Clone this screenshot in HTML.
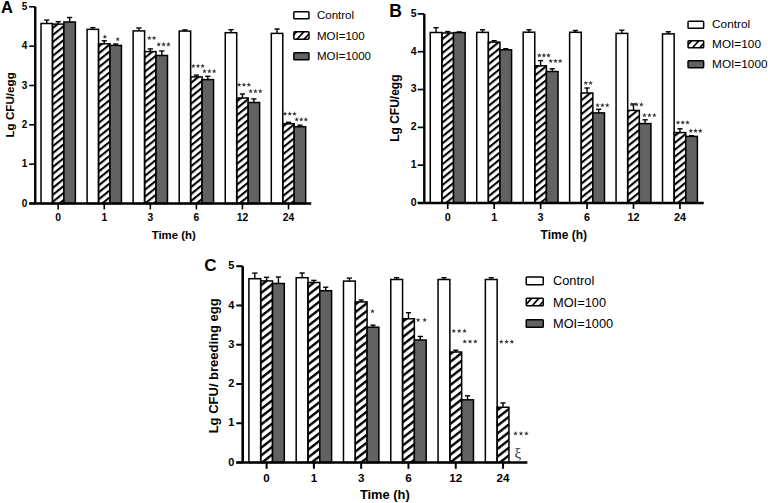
<!DOCTYPE html><html><head><meta charset="utf-8"><style>html,body{margin:0;padding:0;background:#fff;width:768px;height:503px;overflow:hidden}svg{display:block}text{font-family:"Liberation Sans", sans-serif}.tl{font-weight:bold;font-size:9.5px}.xl{font-weight:bold;font-size:10px}.at{font-weight:bold}.pl{font-weight:bold}.lg{font-weight:normal}</style></head><body>
<svg width="768" height="503" viewBox="0 0 768 503">
<defs><pattern id="hatch" patternUnits="userSpaceOnUse" width="5.4" height="5.4" patternTransform="rotate(-39)"><rect x="0" y="0" width="5.4" height="2.1" fill="#000"/></pattern><pattern id="hatchC" patternUnits="userSpaceOnUse" width="6.1" height="6.1" patternTransform="rotate(-38)"><rect x="0" y="0" width="6.1" height="2.4" fill="#000"/></pattern><pattern id="hatchL" patternUnits="userSpaceOnUse" width="5.35" height="5.35" patternTransform="rotate(-48)"><rect x="0" y="0" width="5.35" height="1.7" fill="#000"/></pattern><polygon id="st" points="0,-2.45 0.59,-0.81 2.33,-0.76 0.95,0.31 1.44,1.98 0,1 -1.44,1.98 -0.95,0.31 -2.33,-0.76 -0.59,-0.81" fill="#333"/></defs>
<rect width="768" height="503" fill="#fff"/>
<line x1="46.75" y1="23.5" x2="46.75" y2="20.1" stroke="#000" stroke-width="1.4"/>
<line x1="44.15" y1="20.1" x2="49.35" y2="20.1" stroke="#000" stroke-width="1.4"/>
<rect x="41.03" y="23.5" width="11.45" height="180" fill="#fff" stroke="#000" stroke-width="1.5"/>
<line x1="58.2" y1="24.1" x2="58.2" y2="21.7" stroke="#000" stroke-width="1.4"/>
<line x1="55.6" y1="21.7" x2="60.8" y2="21.7" stroke="#000" stroke-width="1.4"/>
<rect x="52.48" y="24.1" width="11.45" height="179.4" fill="url(#hatch)" stroke="#000" stroke-width="1.5"/>
<line x1="69.65" y1="22" x2="69.65" y2="17.5" stroke="#000" stroke-width="1.4"/>
<line x1="67.05" y1="17.5" x2="72.25" y2="17.5" stroke="#000" stroke-width="1.4"/>
<rect x="63.93" y="22" width="11.45" height="181.5" fill="#626262" stroke="#000" stroke-width="1.5"/>
<line x1="92.81" y1="29.35" x2="92.81" y2="27.6" stroke="#000" stroke-width="1.4"/>
<line x1="90.21" y1="27.6" x2="95.41" y2="27.6" stroke="#000" stroke-width="1.4"/>
<rect x="87.09" y="29.35" width="11.45" height="174.15" fill="#fff" stroke="#000" stroke-width="1.5"/>
<line x1="104.26" y1="43.8" x2="104.26" y2="40.8" stroke="#000" stroke-width="1.4"/>
<line x1="101.66" y1="40.8" x2="106.86" y2="40.8" stroke="#000" stroke-width="1.4"/>
<rect x="98.54" y="43.8" width="11.45" height="159.7" fill="url(#hatch)" stroke="#000" stroke-width="1.5"/>
<line x1="115.71" y1="45.4" x2="115.71" y2="44" stroke="#000" stroke-width="1.4"/>
<line x1="113.11" y1="44" x2="118.31" y2="44" stroke="#000" stroke-width="1.4"/>
<rect x="109.99" y="45.4" width="11.45" height="158.1" fill="#626262" stroke="#000" stroke-width="1.5"/>
<line x1="138.87" y1="30.9" x2="138.87" y2="28" stroke="#000" stroke-width="1.4"/>
<line x1="136.27" y1="28" x2="141.47" y2="28" stroke="#000" stroke-width="1.4"/>
<rect x="133.14" y="30.9" width="11.45" height="172.6" fill="#fff" stroke="#000" stroke-width="1.5"/>
<line x1="150.32" y1="51.6" x2="150.32" y2="48.9" stroke="#000" stroke-width="1.4"/>
<line x1="147.72" y1="48.9" x2="152.92" y2="48.9" stroke="#000" stroke-width="1.4"/>
<rect x="144.59" y="51.6" width="11.45" height="151.9" fill="url(#hatch)" stroke="#000" stroke-width="1.5"/>
<line x1="161.77" y1="55.5" x2="161.77" y2="51" stroke="#000" stroke-width="1.4"/>
<line x1="159.17" y1="51" x2="164.37" y2="51" stroke="#000" stroke-width="1.4"/>
<rect x="156.04" y="55.5" width="11.45" height="148" fill="#626262" stroke="#000" stroke-width="1.5"/>
<line x1="184.93" y1="31.1" x2="184.93" y2="29.9" stroke="#000" stroke-width="1.4"/>
<line x1="182.33" y1="29.9" x2="187.53" y2="29.9" stroke="#000" stroke-width="1.4"/>
<rect x="179.2" y="31.1" width="11.45" height="172.4" fill="#fff" stroke="#000" stroke-width="1.5"/>
<line x1="196.38" y1="76.9" x2="196.38" y2="75.1" stroke="#000" stroke-width="1.4"/>
<line x1="193.78" y1="75.1" x2="198.98" y2="75.1" stroke="#000" stroke-width="1.4"/>
<rect x="190.65" y="76.9" width="11.45" height="126.6" fill="url(#hatch)" stroke="#000" stroke-width="1.5"/>
<line x1="207.83" y1="79.6" x2="207.83" y2="76.3" stroke="#000" stroke-width="1.4"/>
<line x1="205.23" y1="76.3" x2="210.43" y2="76.3" stroke="#000" stroke-width="1.4"/>
<rect x="202.1" y="79.6" width="11.45" height="123.9" fill="#626262" stroke="#000" stroke-width="1.5"/>
<line x1="230.99" y1="32.7" x2="230.99" y2="29.7" stroke="#000" stroke-width="1.4"/>
<line x1="228.39" y1="29.7" x2="233.59" y2="29.7" stroke="#000" stroke-width="1.4"/>
<rect x="225.26" y="32.7" width="11.45" height="170.8" fill="#fff" stroke="#000" stroke-width="1.5"/>
<line x1="242.44" y1="98" x2="242.44" y2="94" stroke="#000" stroke-width="1.4"/>
<line x1="239.84" y1="94" x2="245.04" y2="94" stroke="#000" stroke-width="1.4"/>
<rect x="236.71" y="98" width="11.45" height="105.5" fill="url(#hatch)" stroke="#000" stroke-width="1.5"/>
<line x1="253.89" y1="102.5" x2="253.89" y2="98.95" stroke="#000" stroke-width="1.4"/>
<line x1="251.29" y1="98.95" x2="256.49" y2="98.95" stroke="#000" stroke-width="1.4"/>
<rect x="248.16" y="102.5" width="11.45" height="101" fill="#626262" stroke="#000" stroke-width="1.5"/>
<line x1="277.05" y1="33.4" x2="277.05" y2="29" stroke="#000" stroke-width="1.4"/>
<line x1="274.45" y1="29" x2="279.65" y2="29" stroke="#000" stroke-width="1.4"/>
<rect x="271.32" y="33.4" width="11.45" height="170.1" fill="#fff" stroke="#000" stroke-width="1.5"/>
<line x1="288.5" y1="123.8" x2="288.5" y2="122.3" stroke="#000" stroke-width="1.4"/>
<line x1="285.9" y1="122.3" x2="291.1" y2="122.3" stroke="#000" stroke-width="1.4"/>
<rect x="282.77" y="123.8" width="11.45" height="79.7" fill="url(#hatch)" stroke="#000" stroke-width="1.5"/>
<line x1="299.95" y1="126.75" x2="299.95" y2="125.2" stroke="#000" stroke-width="1.4"/>
<line x1="297.35" y1="125.2" x2="302.55" y2="125.2" stroke="#000" stroke-width="1.4"/>
<rect x="294.22" y="126.75" width="11.45" height="76.75" fill="#626262" stroke="#000" stroke-width="1.5"/>
<path d="M35.25 6.8 V203.5 M29.2 203.5 H311.25" stroke="#000" stroke-width="2.4" fill="none"/>
<line x1="29.2" y1="203.5" x2="35.25" y2="203.5" stroke="#000" stroke-width="1.6"/>
<text x="27.4" y="206.6" class="tl" text-anchor="end" style="font-size:10px">0</text>
<line x1="29.2" y1="164.16" x2="35.25" y2="164.16" stroke="#000" stroke-width="1.6"/>
<text x="27.4" y="167.26" class="tl" text-anchor="end" style="font-size:10px">1</text>
<line x1="29.2" y1="124.82" x2="35.25" y2="124.82" stroke="#000" stroke-width="1.6"/>
<text x="27.4" y="127.92" class="tl" text-anchor="end" style="font-size:10px">2</text>
<line x1="29.2" y1="85.48" x2="35.25" y2="85.48" stroke="#000" stroke-width="1.6"/>
<text x="27.4" y="88.58" class="tl" text-anchor="end" style="font-size:10px">3</text>
<line x1="29.2" y1="46.14" x2="35.25" y2="46.14" stroke="#000" stroke-width="1.6"/>
<text x="27.4" y="49.24" class="tl" text-anchor="end" style="font-size:10px">4</text>
<line x1="29.2" y1="6.8" x2="35.25" y2="6.8" stroke="#000" stroke-width="1.6"/>
<text x="27.4" y="9.9" class="tl" text-anchor="end" style="font-size:10px">5</text>
<line x1="58.2" y1="203.5" x2="58.2" y2="209.4" stroke="#000" stroke-width="1.6"/>
<text x="58.2" y="220.5" class="xl" text-anchor="middle" style="font-size:10.3px">0</text>
<line x1="104.26" y1="203.5" x2="104.26" y2="209.4" stroke="#000" stroke-width="1.6"/>
<text x="104.26" y="220.5" class="xl" text-anchor="middle" style="font-size:10.3px">1</text>
<line x1="150.32" y1="203.5" x2="150.32" y2="209.4" stroke="#000" stroke-width="1.6"/>
<text x="150.32" y="220.5" class="xl" text-anchor="middle" style="font-size:10.3px">3</text>
<line x1="196.38" y1="203.5" x2="196.38" y2="209.4" stroke="#000" stroke-width="1.6"/>
<text x="196.38" y="220.5" class="xl" text-anchor="middle" style="font-size:10.3px">6</text>
<line x1="242.44" y1="203.5" x2="242.44" y2="209.4" stroke="#000" stroke-width="1.6"/>
<text x="242.44" y="220.5" class="xl" text-anchor="middle" style="font-size:10.3px">12</text>
<line x1="288.5" y1="203.5" x2="288.5" y2="209.4" stroke="#000" stroke-width="1.6"/>
<text x="288.5" y="220.5" class="xl" text-anchor="middle" style="font-size:10.3px">24</text>
<text x="173.75" y="238.75" class="at" text-anchor="middle" style="font-size:11.4px">Time (h)</text>
<text transform="translate(14.2 104.9) rotate(-90)" class="at" text-anchor="middle" style="font-size:11.65px">Lg CFU/egg</text>
<text x="0.9" y="13" class="pl" style="font-size:16.5px">A</text>
<use href="#st" x="104.9" y="36.8"/>
<use href="#st" x="117.7" y="39.2"/>
<use href="#st" x="149.33" y="38.1"/>
<use href="#st" x="154.07" y="38.1"/>
<use href="#st" x="158.73" y="44.4"/>
<use href="#st" x="163.6" y="44.4"/>
<use href="#st" x="168.47" y="44.4"/>
<use href="#st" x="193.33" y="66"/>
<use href="#st" x="198" y="66"/>
<use href="#st" x="202.67" y="66"/>
<use href="#st" x="204.53" y="71.25"/>
<use href="#st" x="209.35" y="71.25"/>
<use href="#st" x="214.17" y="71.25"/>
<use href="#st" x="239.13" y="84.7"/>
<use href="#st" x="243.95" y="84.7"/>
<use href="#st" x="248.77" y="84.7"/>
<use href="#st" x="250.63" y="91.25"/>
<use href="#st" x="255.45" y="91.25"/>
<use href="#st" x="260.27" y="91.25"/>
<use href="#st" x="285.03" y="113.75"/>
<use href="#st" x="289.75" y="113.75"/>
<use href="#st" x="294.47" y="113.75"/>
<use href="#st" x="296.73" y="119.5"/>
<use href="#st" x="301.3" y="119.5"/>
<use href="#st" x="305.87" y="119.5"/>
<rect x="293.85" y="11.75" width="15.1" height="7.1" fill="#fff" stroke="#000" stroke-width="1.5" rx="0.8"/>
<text x="317" y="19.25" class="lg" style="font-size:11.5px">Control</text>
<rect x="293.85" y="31.75" width="15.1" height="7.4" fill="url(#hatchL)" stroke="#000" stroke-width="1.5" rx="0.8"/>
<text x="317" y="39.9" class="lg" style="font-size:11.5px">MOI=100</text>
<rect x="293.85" y="52.75" width="15.1" height="7" fill="#626262" stroke="#000" stroke-width="1.5" rx="0.8"/>
<text x="317" y="60.3" class="lg" style="font-size:11.5px">MOI=1000</text>
<line x1="436.08" y1="32.5" x2="436.08" y2="27.7" stroke="#000" stroke-width="1.4"/>
<line x1="433.48" y1="27.7" x2="438.68" y2="27.7" stroke="#000" stroke-width="1.4"/>
<rect x="430.27" y="32.5" width="11.62" height="170.5" fill="#fff" stroke="#000" stroke-width="1.5"/>
<line x1="447.7" y1="33" x2="447.7" y2="31.6" stroke="#000" stroke-width="1.4"/>
<line x1="445.1" y1="31.6" x2="450.3" y2="31.6" stroke="#000" stroke-width="1.4"/>
<rect x="441.89" y="33" width="11.62" height="170" fill="url(#hatch)" stroke="#000" stroke-width="1.5"/>
<line x1="459.32" y1="32.6" x2="459.32" y2="31.9" stroke="#000" stroke-width="1.4"/>
<line x1="456.72" y1="31.9" x2="461.92" y2="31.9" stroke="#000" stroke-width="1.4"/>
<rect x="453.51" y="32.6" width="11.62" height="170.4" fill="#626262" stroke="#000" stroke-width="1.5"/>
<line x1="482.53" y1="32.4" x2="482.53" y2="29.8" stroke="#000" stroke-width="1.4"/>
<line x1="479.93" y1="29.8" x2="485.13" y2="29.8" stroke="#000" stroke-width="1.4"/>
<rect x="476.72" y="32.4" width="11.62" height="170.6" fill="#fff" stroke="#000" stroke-width="1.5"/>
<line x1="494.15" y1="42.1" x2="494.15" y2="40.7" stroke="#000" stroke-width="1.4"/>
<line x1="491.55" y1="40.7" x2="496.75" y2="40.7" stroke="#000" stroke-width="1.4"/>
<rect x="488.34" y="42.1" width="11.62" height="160.9" fill="url(#hatch)" stroke="#000" stroke-width="1.5"/>
<line x1="505.77" y1="49.8" x2="505.77" y2="48.7" stroke="#000" stroke-width="1.4"/>
<line x1="503.17" y1="48.7" x2="508.37" y2="48.7" stroke="#000" stroke-width="1.4"/>
<rect x="499.96" y="49.8" width="11.62" height="153.2" fill="#626262" stroke="#000" stroke-width="1.5"/>
<line x1="528.98" y1="32.2" x2="528.98" y2="29.8" stroke="#000" stroke-width="1.4"/>
<line x1="526.38" y1="29.8" x2="531.58" y2="29.8" stroke="#000" stroke-width="1.4"/>
<rect x="523.17" y="32.2" width="11.62" height="170.8" fill="#fff" stroke="#000" stroke-width="1.5"/>
<line x1="540.6" y1="65.8" x2="540.6" y2="60.6" stroke="#000" stroke-width="1.4"/>
<line x1="538" y1="60.6" x2="543.2" y2="60.6" stroke="#000" stroke-width="1.4"/>
<rect x="534.79" y="65.8" width="11.62" height="137.2" fill="url(#hatch)" stroke="#000" stroke-width="1.5"/>
<line x1="552.22" y1="71.5" x2="552.22" y2="68.8" stroke="#000" stroke-width="1.4"/>
<line x1="549.62" y1="68.8" x2="554.82" y2="68.8" stroke="#000" stroke-width="1.4"/>
<rect x="546.41" y="71.5" width="11.62" height="131.5" fill="#626262" stroke="#000" stroke-width="1.5"/>
<line x1="575.43" y1="32.3" x2="575.43" y2="30.5" stroke="#000" stroke-width="1.4"/>
<line x1="572.83" y1="30.5" x2="578.03" y2="30.5" stroke="#000" stroke-width="1.4"/>
<rect x="569.62" y="32.3" width="11.62" height="170.7" fill="#fff" stroke="#000" stroke-width="1.5"/>
<line x1="587.05" y1="93" x2="587.05" y2="88" stroke="#000" stroke-width="1.4"/>
<line x1="584.45" y1="88" x2="589.65" y2="88" stroke="#000" stroke-width="1.4"/>
<rect x="581.24" y="93" width="11.62" height="110" fill="url(#hatch)" stroke="#000" stroke-width="1.5"/>
<line x1="598.67" y1="112.9" x2="598.67" y2="109.3" stroke="#000" stroke-width="1.4"/>
<line x1="596.07" y1="109.3" x2="601.27" y2="109.3" stroke="#000" stroke-width="1.4"/>
<rect x="592.86" y="112.9" width="11.62" height="90.1" fill="#626262" stroke="#000" stroke-width="1.5"/>
<line x1="621.88" y1="33.4" x2="621.88" y2="30.2" stroke="#000" stroke-width="1.4"/>
<line x1="619.28" y1="30.2" x2="624.48" y2="30.2" stroke="#000" stroke-width="1.4"/>
<rect x="616.07" y="33.4" width="11.62" height="169.6" fill="#fff" stroke="#000" stroke-width="1.5"/>
<line x1="633.5" y1="110.4" x2="633.5" y2="104" stroke="#000" stroke-width="1.4"/>
<line x1="630.9" y1="104" x2="636.1" y2="104" stroke="#000" stroke-width="1.4"/>
<rect x="627.69" y="110.4" width="11.62" height="92.6" fill="url(#hatch)" stroke="#000" stroke-width="1.5"/>
<line x1="645.12" y1="123.6" x2="645.12" y2="119.8" stroke="#000" stroke-width="1.4"/>
<line x1="642.52" y1="119.8" x2="647.72" y2="119.8" stroke="#000" stroke-width="1.4"/>
<rect x="639.31" y="123.6" width="11.62" height="79.4" fill="#626262" stroke="#000" stroke-width="1.5"/>
<line x1="668.33" y1="33.9" x2="668.33" y2="31.8" stroke="#000" stroke-width="1.4"/>
<line x1="665.73" y1="31.8" x2="670.93" y2="31.8" stroke="#000" stroke-width="1.4"/>
<rect x="662.52" y="33.9" width="11.62" height="169.1" fill="#fff" stroke="#000" stroke-width="1.5"/>
<line x1="679.95" y1="132.6" x2="679.95" y2="128.8" stroke="#000" stroke-width="1.4"/>
<line x1="677.35" y1="128.8" x2="682.55" y2="128.8" stroke="#000" stroke-width="1.4"/>
<rect x="674.14" y="132.6" width="11.62" height="70.4" fill="url(#hatch)" stroke="#000" stroke-width="1.5"/>
<line x1="691.57" y1="136.4" x2="691.57" y2="135.7" stroke="#000" stroke-width="1.4"/>
<line x1="688.97" y1="135.7" x2="694.17" y2="135.7" stroke="#000" stroke-width="1.4"/>
<rect x="685.76" y="136.4" width="11.62" height="66.6" fill="#626262" stroke="#000" stroke-width="1.5"/>
<path d="M424.3 13.9 V203 M417.75 203 H703.75" stroke="#000" stroke-width="2.4" fill="none"/>
<line x1="417.75" y1="203" x2="424.3" y2="203" stroke="#000" stroke-width="1.7"/>
<text x="416.5" y="205.9" class="tl" text-anchor="end" style="font-size:10.5px">0</text>
<line x1="417.75" y1="165.18" x2="424.3" y2="165.18" stroke="#000" stroke-width="1.7"/>
<text x="416.5" y="168.08" class="tl" text-anchor="end" style="font-size:10.5px">1</text>
<line x1="417.75" y1="127.36" x2="424.3" y2="127.36" stroke="#000" stroke-width="1.7"/>
<text x="416.5" y="130.26" class="tl" text-anchor="end" style="font-size:10.5px">2</text>
<line x1="417.75" y1="89.54" x2="424.3" y2="89.54" stroke="#000" stroke-width="1.7"/>
<text x="416.5" y="92.44" class="tl" text-anchor="end" style="font-size:10.5px">3</text>
<line x1="417.75" y1="51.72" x2="424.3" y2="51.72" stroke="#000" stroke-width="1.7"/>
<text x="416.5" y="54.62" class="tl" text-anchor="end" style="font-size:10.5px">4</text>
<line x1="417.75" y1="13.9" x2="424.3" y2="13.9" stroke="#000" stroke-width="1.7"/>
<text x="416.5" y="16.8" class="tl" text-anchor="end" style="font-size:10.5px">5</text>
<line x1="447.7" y1="203" x2="447.7" y2="208.9" stroke="#000" stroke-width="1.7"/>
<text x="447.7" y="220.8" class="xl" text-anchor="middle" style="font-size:10.8px">0</text>
<line x1="494.15" y1="203" x2="494.15" y2="208.9" stroke="#000" stroke-width="1.7"/>
<text x="494.15" y="220.8" class="xl" text-anchor="middle" style="font-size:10.8px">1</text>
<line x1="540.6" y1="203" x2="540.6" y2="208.9" stroke="#000" stroke-width="1.7"/>
<text x="540.6" y="220.8" class="xl" text-anchor="middle" style="font-size:10.8px">3</text>
<line x1="587.05" y1="203" x2="587.05" y2="208.9" stroke="#000" stroke-width="1.7"/>
<text x="587.05" y="220.8" class="xl" text-anchor="middle" style="font-size:10.8px">6</text>
<line x1="633.5" y1="203" x2="633.5" y2="208.9" stroke="#000" stroke-width="1.7"/>
<text x="633.5" y="220.8" class="xl" text-anchor="middle" style="font-size:10.8px">12</text>
<line x1="679.95" y1="203" x2="679.95" y2="208.9" stroke="#000" stroke-width="1.7"/>
<text x="679.95" y="220.8" class="xl" text-anchor="middle" style="font-size:10.8px">24</text>
<text x="563.85" y="238.8" class="at" text-anchor="middle" style="font-size:12px">Time (h)</text>
<text transform="translate(398.9 108.2) rotate(-90)" class="at" text-anchor="middle" style="font-size:12px">Lg CFU/egg</text>
<text x="389.2" y="16.7" class="pl" style="font-size:17.5px">B</text>
<use href="#st" x="539.33" y="55.4"/>
<use href="#st" x="543.9" y="55.4"/>
<use href="#st" x="548.47" y="55.4"/>
<use href="#st" x="550.73" y="61.1"/>
<use href="#st" x="555.45" y="61.1"/>
<use href="#st" x="560.17" y="61.1"/>
<use href="#st" x="585.83" y="83.1"/>
<use href="#st" x="590.57" y="83.1"/>
<use href="#st" x="597.63" y="105.2"/>
<use href="#st" x="602.45" y="105.2"/>
<use href="#st" x="607.27" y="105.2"/>
<use href="#st" x="631.73" y="104.5"/>
<use href="#st" x="636.58" y="104.5"/>
<use href="#st" x="641.42" y="104.5"/>
<use href="#st" x="644.43" y="115.2"/>
<use href="#st" x="649.4" y="115.2"/>
<use href="#st" x="654.37" y="115.2"/>
<use href="#st" x="678.03" y="122.6"/>
<use href="#st" x="682.75" y="122.6"/>
<use href="#st" x="687.47" y="122.6"/>
<use href="#st" x="690.83" y="130.9"/>
<use href="#st" x="695.55" y="130.9"/>
<use href="#st" x="700.27" y="130.9"/>
<rect x="688.05" y="21.25" width="15.6" height="7.1" fill="#fff" stroke="#000" stroke-width="1.5" rx="0.8"/>
<text x="712.1" y="28.3" class="lg" style="font-size:11.8px">Control</text>
<rect x="688.05" y="40.75" width="15.6" height="7.1" fill="url(#hatchL)" stroke="#000" stroke-width="1.5" rx="0.8"/>
<text x="712.1" y="48.2" class="lg" style="font-size:11.8px">MOI=100</text>
<rect x="688.05" y="60.75" width="15.6" height="6.9" fill="#626262" stroke="#000" stroke-width="1.5" rx="0.8"/>
<text x="712.1" y="67.9" class="lg" style="font-size:11.8px">MOI=1000</text>
<line x1="254.8" y1="278.7" x2="254.8" y2="273.1" stroke="#000" stroke-width="1.4"/>
<line x1="252.2" y1="273.1" x2="257.4" y2="273.1" stroke="#000" stroke-width="1.4"/>
<rect x="248.9" y="278.7" width="11.8" height="183.8" fill="#fff" stroke="#000" stroke-width="1.5"/>
<line x1="266.6" y1="280.9" x2="266.6" y2="277.3" stroke="#000" stroke-width="1.4"/>
<line x1="264" y1="277.3" x2="269.2" y2="277.3" stroke="#000" stroke-width="1.4"/>
<rect x="260.7" y="280.9" width="11.8" height="181.6" fill="url(#hatchC)" stroke="#000" stroke-width="1.5"/>
<line x1="278.4" y1="283.5" x2="278.4" y2="277" stroke="#000" stroke-width="1.4"/>
<line x1="275.8" y1="277" x2="281" y2="277" stroke="#000" stroke-width="1.4"/>
<rect x="272.5" y="283.5" width="11.8" height="179" fill="#626262" stroke="#000" stroke-width="1.5"/>
<line x1="302.09" y1="277.7" x2="302.09" y2="273" stroke="#000" stroke-width="1.4"/>
<line x1="299.49" y1="273" x2="304.69" y2="273" stroke="#000" stroke-width="1.4"/>
<rect x="296.19" y="277.7" width="11.8" height="184.8" fill="#fff" stroke="#000" stroke-width="1.5"/>
<line x1="313.89" y1="282.5" x2="313.89" y2="280.4" stroke="#000" stroke-width="1.4"/>
<line x1="311.29" y1="280.4" x2="316.49" y2="280.4" stroke="#000" stroke-width="1.4"/>
<rect x="307.99" y="282.5" width="11.8" height="180" fill="url(#hatchC)" stroke="#000" stroke-width="1.5"/>
<line x1="325.69" y1="290.7" x2="325.69" y2="287.2" stroke="#000" stroke-width="1.4"/>
<line x1="323.09" y1="287.2" x2="328.29" y2="287.2" stroke="#000" stroke-width="1.4"/>
<rect x="319.79" y="290.7" width="11.8" height="171.8" fill="#626262" stroke="#000" stroke-width="1.5"/>
<line x1="349.38" y1="281.1" x2="349.38" y2="278.1" stroke="#000" stroke-width="1.4"/>
<line x1="346.78" y1="278.1" x2="351.98" y2="278.1" stroke="#000" stroke-width="1.4"/>
<rect x="343.48" y="281.1" width="11.8" height="181.4" fill="#fff" stroke="#000" stroke-width="1.5"/>
<line x1="361.18" y1="301.9" x2="361.18" y2="300" stroke="#000" stroke-width="1.4"/>
<line x1="358.58" y1="300" x2="363.78" y2="300" stroke="#000" stroke-width="1.4"/>
<rect x="355.28" y="301.9" width="11.8" height="160.6" fill="url(#hatchC)" stroke="#000" stroke-width="1.5"/>
<line x1="372.98" y1="327.2" x2="372.98" y2="325.2" stroke="#000" stroke-width="1.4"/>
<line x1="370.38" y1="325.2" x2="375.58" y2="325.2" stroke="#000" stroke-width="1.4"/>
<rect x="367.08" y="327.2" width="11.8" height="135.3" fill="#626262" stroke="#000" stroke-width="1.5"/>
<line x1="396.67" y1="279.5" x2="396.67" y2="277.7" stroke="#000" stroke-width="1.4"/>
<line x1="394.07" y1="277.7" x2="399.27" y2="277.7" stroke="#000" stroke-width="1.4"/>
<rect x="390.77" y="279.5" width="11.8" height="183" fill="#fff" stroke="#000" stroke-width="1.5"/>
<line x1="408.47" y1="318.75" x2="408.47" y2="312.7" stroke="#000" stroke-width="1.4"/>
<line x1="405.87" y1="312.7" x2="411.07" y2="312.7" stroke="#000" stroke-width="1.4"/>
<rect x="402.57" y="318.75" width="11.8" height="143.75" fill="url(#hatchC)" stroke="#000" stroke-width="1.5"/>
<line x1="420.27" y1="340" x2="420.27" y2="336.45" stroke="#000" stroke-width="1.4"/>
<line x1="417.67" y1="336.45" x2="422.87" y2="336.45" stroke="#000" stroke-width="1.4"/>
<rect x="414.37" y="340" width="11.8" height="122.5" fill="#626262" stroke="#000" stroke-width="1.5"/>
<line x1="443.96" y1="279.5" x2="443.96" y2="277.7" stroke="#000" stroke-width="1.4"/>
<line x1="441.36" y1="277.7" x2="446.56" y2="277.7" stroke="#000" stroke-width="1.4"/>
<rect x="438.06" y="279.5" width="11.8" height="183" fill="#fff" stroke="#000" stroke-width="1.5"/>
<line x1="455.76" y1="352" x2="455.76" y2="350.2" stroke="#000" stroke-width="1.4"/>
<line x1="453.16" y1="350.2" x2="458.36" y2="350.2" stroke="#000" stroke-width="1.4"/>
<rect x="449.86" y="352" width="11.8" height="110.5" fill="url(#hatchC)" stroke="#000" stroke-width="1.5"/>
<line x1="467.56" y1="399.8" x2="467.56" y2="395.8" stroke="#000" stroke-width="1.4"/>
<line x1="464.96" y1="395.8" x2="470.16" y2="395.8" stroke="#000" stroke-width="1.4"/>
<rect x="461.66" y="399.8" width="11.8" height="62.7" fill="#626262" stroke="#000" stroke-width="1.5"/>
<line x1="491.25" y1="279.5" x2="491.25" y2="277.7" stroke="#000" stroke-width="1.4"/>
<line x1="488.65" y1="277.7" x2="493.85" y2="277.7" stroke="#000" stroke-width="1.4"/>
<rect x="485.35" y="279.5" width="11.8" height="183" fill="#fff" stroke="#000" stroke-width="1.5"/>
<line x1="503.05" y1="407.25" x2="503.05" y2="402.95" stroke="#000" stroke-width="1.4"/>
<line x1="500.45" y1="402.95" x2="505.65" y2="402.95" stroke="#000" stroke-width="1.4"/>
<rect x="497.15" y="407.25" width="11.8" height="55.25" fill="url(#hatchC)" stroke="#000" stroke-width="1.5"/>
<path d="M242.7 266.2 V462.5 M236.3 462.5 H527.4" stroke="#000" stroke-width="2.6" fill="none"/>
<line x1="236.3" y1="462.5" x2="242.7" y2="462.5" stroke="#000" stroke-width="2"/>
<text x="234.4" y="465.6" class="tl" text-anchor="end" style="font-size:11px">0</text>
<line x1="236.3" y1="423.24" x2="242.7" y2="423.24" stroke="#000" stroke-width="2"/>
<text x="234.4" y="426.34" class="tl" text-anchor="end" style="font-size:11px">1</text>
<line x1="236.3" y1="383.98" x2="242.7" y2="383.98" stroke="#000" stroke-width="2"/>
<text x="234.4" y="387.08" class="tl" text-anchor="end" style="font-size:11px">2</text>
<line x1="236.3" y1="344.72" x2="242.7" y2="344.72" stroke="#000" stroke-width="2"/>
<text x="234.4" y="347.82" class="tl" text-anchor="end" style="font-size:11px">3</text>
<line x1="236.3" y1="305.46" x2="242.7" y2="305.46" stroke="#000" stroke-width="2"/>
<text x="234.4" y="308.56" class="tl" text-anchor="end" style="font-size:11px">4</text>
<line x1="236.3" y1="266.2" x2="242.7" y2="266.2" stroke="#000" stroke-width="2"/>
<text x="234.4" y="269.3" class="tl" text-anchor="end" style="font-size:11px">5</text>
<line x1="266.6" y1="462.5" x2="266.6" y2="468.8" stroke="#000" stroke-width="2"/>
<text x="266.6" y="481.7" class="xl" text-anchor="middle" style="font-size:11.6px">0</text>
<line x1="313.89" y1="462.5" x2="313.89" y2="468.8" stroke="#000" stroke-width="2"/>
<text x="313.89" y="481.7" class="xl" text-anchor="middle" style="font-size:11.6px">1</text>
<line x1="361.18" y1="462.5" x2="361.18" y2="468.8" stroke="#000" stroke-width="2"/>
<text x="361.18" y="481.7" class="xl" text-anchor="middle" style="font-size:11.6px">3</text>
<line x1="408.47" y1="462.5" x2="408.47" y2="468.8" stroke="#000" stroke-width="2"/>
<text x="408.47" y="481.7" class="xl" text-anchor="middle" style="font-size:11.6px">6</text>
<line x1="455.76" y1="462.5" x2="455.76" y2="468.8" stroke="#000" stroke-width="2"/>
<text x="455.76" y="481.7" class="xl" text-anchor="middle" style="font-size:11.6px">12</text>
<line x1="503.05" y1="462.5" x2="503.05" y2="468.8" stroke="#000" stroke-width="2"/>
<text x="503.05" y="481.7" class="xl" text-anchor="middle" style="font-size:11.6px">24</text>
<text x="384.85" y="499.4" class="at" text-anchor="middle" style="font-size:12.9px">Time (h)</text>
<text transform="translate(217.5 365.8) rotate(-90)" class="at" text-anchor="middle" style="font-size:13px">Lg CFU/ breeding egg</text>
<text x="204.2" y="270.7" class="pl" style="font-size:17px">C</text>
<use href="#st" x="372.5" y="311.25"/>
<use href="#st" x="418.08" y="320"/>
<use href="#st" x="424.67" y="320"/>
<use href="#st" x="453.83" y="331"/>
<use href="#st" x="459.2" y="331"/>
<use href="#st" x="464.57" y="331"/>
<use href="#st" x="464.73" y="341.6"/>
<use href="#st" x="470.05" y="341.6"/>
<use href="#st" x="475.37" y="341.6"/>
<use href="#st" x="501.23" y="341.8"/>
<use href="#st" x="506.55" y="341.8"/>
<use href="#st" x="511.87" y="341.8"/>
<use href="#st" x="515.53" y="433.5"/>
<use href="#st" x="520.98" y="433.5"/>
<use href="#st" x="526.42" y="433.5"/>
<rect x="526.25" y="276.95" width="17" height="7.9" fill="#fff" stroke="#000" stroke-width="1.5" rx="0.8"/>
<text x="553" y="285.2" class="lg" style="font-size:12.8px">Control</text>
<rect x="526.25" y="298.15" width="17" height="7.6" fill="url(#hatchL)" stroke="#000" stroke-width="1.5" rx="0.8"/>
<text x="553" y="306.6" class="lg" style="font-size:12.8px">MOI=100</text>
<rect x="526.25" y="319.75" width="17" height="7.5" fill="#626262" stroke="#000" stroke-width="1.5" rx="0.8"/>
<text x="553" y="328" class="lg" style="font-size:12.8px">MOI=1000</text>
<text x="514.6" y="458" style="font-family:'Liberation Serif',serif;font-size:15px" fill="#333">&#958;</text>
</svg></body></html>
